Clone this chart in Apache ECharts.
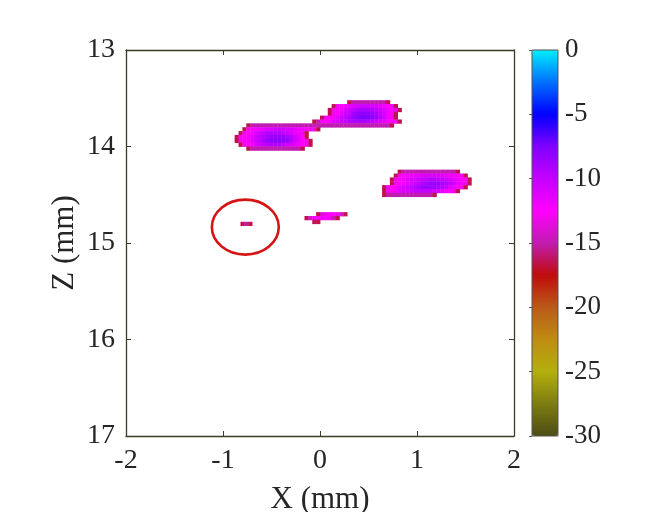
<!DOCTYPE html>
<html><head><meta charset="utf-8">
<script src="https://cdn.jsdelivr.net/npm/echarts@6/dist/echarts.min.js"></script>
<style>html,body{margin:0;padding:0;background:#fff}#c{width:671px;height:512px}</style>
</head><body><div id="c"></div>
<script>
// ---- axes / colour scale ----
const xRange = [-2, 2];
const zRange = [13, 17];
const cbarRange = [-30, 0];
const xTitle = 'X (mm)';
const zTitle = 'Z (mm)';
const colormap = ['#4d4d14','#7d7c12','#b3b00c','#bf8c12','#b95a18','#c00c0c','#c01cb0','#ff00ff','#c400ff','#8000ff','#0000ff','#0070ff','#00eeff'];

// ---- grid step of the image (mm) ----
const CELL = 0.04;

// ---- blob A (upper left) ----
const blobA_x0 = -0.86, blobA_z0 = 13.78;
const blobA_start = [3, 2, 1, 0, 0, 1, 3];
const blobA = [
  [-16.5,-15,-15,-15,-15,-15,-15,-15,-15,-15,-15,-15,-15,-15,-15,-15,-15,-15,-15],
  [-16.5,-13,-12.5,-12,-12,-11.5,-11,-11,-10.5,-10.5,-10.5,-11,-11,-11.5,-12,-12,-12.5,-13,-13,-16.5],
  [-16.5,-13,-12.5,-12,-11,-10.5,-10,-9.5,-9.5,-9.5,-9.5,-10,-10.5,-11,-11.5,-12,-13,-16.5],
  [-16.5,-13,-12.5,-12,-11.5,-10.5,-10,-9.5,-9,-8.5,-8.5,-8.5,-8.5,-9,-9.5,-10.5,-11.5,-12.5,-16.5],
  [-16.5,-13,-12.5,-12,-11.5,-10.5,-10,-9,-8.5,-8,-8,-8,-8,-8.5,-9.5,-10.5,-11.5,-12.5,-13,-16.5],
  [-16.5,-13,-12.5,-12,-11,-10.5,-10,-9.5,-9.5,-9.5,-9.5,-10,-10.5,-11,-11.5,-12,-12.5,-13,-16.5],
  [-16.5,-15,-15,-15,-15,-15,-15,-15,-15,-15,-15,-15,-15,-15,-16.5]
];

// ---- blob B (top) ----
const blobB_x0 = -0.06, blobB_z0 = 13.54;
const blobB_start = [9, 5, 4, 4, 2, 0, 2];
const blobB = [
  [-16.5,-15,-15,-15,-15,-15,-15,-15,-15,-15,-16.5],
  [-16.5,-13,-12.5,-12,-11.5,-11,-11,-10.5,-10.5,-10.5,-11,-11,-11.5,-12,-12.5,-13,-16.5],
  [-16.5,-13,-12.5,-12,-11,-10.5,-10,-9.5,-9,-9,-9,-9.5,-10,-10.5,-11,-12,-12.5,-13,-16.5],
  [-16.5,-13,-12.5,-11.5,-10.5,-10,-9,-8.5,-8,-8,-8,-8.5,-9,-10,-11,-12,-13,-16.5],
  [-16.5,-13,-12.5,-12,-11.5,-10.5,-10,-9,-8.5,-8,-7.5,-7.5,-7.5,-8,-8.5,-9.5,-10.5,-12,-13,-16.5],
  [-16.5,-15,-13,-12.5,-12,-11.5,-11,-10.5,-10,-9.5,-9,-9,-9,-9,-9.5,-10,-10.5,-11,-11.5,-12,-12.5,-13,-16.5],
  [-15,-15,-15,-15,-15,-15,-15,-15,-15,-15,-15,-15,-15,-15,-15,-15,-15,-15,-16.5]
];

// ---- blob C (right) ----
const blobC_x0 = 0.66, blobC_z0 = 14.26;
const blobC_start = [4, 3, 2, 2, 0, 0, 0];
const blobC = [
  [-16.5,-15,-15,-15,-15,-15,-15,-15,-15,-15,-15,-15,-15,-15,-15,-16.5],
  [-16.5,-13,-12.5,-12,-12,-11.5,-11.5,-11,-11,-11,-11,-11,-11.5,-11.5,-12,-12,-12.5,-13,-16.5],
  [-16.5,-13,-12.5,-12,-11.5,-11,-11,-10.5,-10,-10,-9.5,-9.5,-10,-10,-10.5,-11,-11.5,-12,-12.5,-13,-16.5],
  [-16.5,-13,-12.5,-12,-11.5,-11,-10.5,-10,-9.5,-9,-8.5,-8.5,-8.5,-9,-9.5,-10,-10.5,-11.5,-12,-13,-16.5],
  [-16.5,-13,-12.5,-12,-11.5,-11,-10.5,-10,-9.5,-9,-8.5,-8.5,-8.5,-8.5,-9,-9.5,-10,-11,-11.5,-12.5,-13,-16.5],
  [-16.5,-13,-12.5,-12,-11.5,-11,-11,-10.5,-10,-10,-10,-10,-10,-10.5,-11,-11.5,-12,-12.5,-13,-16.5],
  [-16.5,-15,-15,-15,-15,-15,-15,-15,-15,-15,-15,-15,-15,-16.5]
];

// ---- blob D (small, centre) ----
const blobD_x0 = -0.14, blobD_z0 = 14.70;
const blobD_start = [3, 0, 2];
const blobD = [
  [-16.5,-14,-13,-12.5,-12.5,-13,-14,-16.5],
  [-16.5,-14,-13,-12.5,-12,-12.5,-13,-15,-16.5],
  [-16.5,-16.5]
];

// ---- point inside the circle ----
const blobP_x0 = -0.80, blobP_z0 = 14.80;
const blobP_start = [0];
const blobP = [[-16.5,-15,-16.5]];

// ---- red marker ellipse: centre x, centre z, radius x, radius z (mm) ----
const marker = [-0.77, 14.835, 0.345, 0.285];

function cells(x0, z0, start, rows) {
  const out = [];
  rows.forEach((row, r) => row.forEach((v, k) => {
    out.push([+(x0 + (start[r] + k) * CELL).toFixed(4), +(z0 + r * CELL).toFixed(4), v]);
  }));
  return out;
}
const heatData = [].concat(
  cells(blobA_x0, blobA_z0, blobA_start, blobA),
  cells(blobB_x0, blobB_z0, blobB_start, blobB),
  cells(blobC_x0, blobC_z0, blobC_start, blobC),
  cells(blobD_x0, blobD_z0, blobD_start, blobD),
  cells(blobP_x0, blobP_z0, blobP_start, blobP)
);

const FONT = 'Liberation Serif';
const AX = '#3b3b25';
const TXT = '#262626';
const plot = {left: 126, top: 50, width: 388, height: 386};
const cbar = {left: 532, top: 50, width: 26, height: 386};

const chart = echarts.init(document.getElementById('c'));
const tickStyle = {show: true, inside: true, length: 5, lineStyle: {color: AX, width: 1}};
const lineStyle = {show: true, onZero: false, lineStyle: {color: AX, width: 1.3}};
chart.setOption({
  animation: false,
  backgroundColor: '#fff',
  textStyle: {fontFamily: FONT},
  grid: [
    Object.assign({}, plot, {containLabel: false, outerBoundsMode: 'none'}),
    Object.assign({}, cbar, {containLabel: false, outerBoundsMode: 'none', show: true, borderColor: '#555', borderWidth: 1, z: 6})
  ],
  xAxis: [
    {gridIndex: 0, type: 'value', min: xRange[0], max: xRange[1], interval: 1, position: 'bottom',
     axisLine: lineStyle, axisTick: tickStyle, splitLine: {show: false},
     axisLabel: {fontFamily: FONT, fontSize: 28, color: TXT, margin: 11},
     name: xTitle, nameLocation: 'middle', nameGap: 48, nameMoveOverlap: false,
     nameTextStyle: {fontFamily: FONT, fontSize: 31, color: TXT}},
    {gridIndex: 0, type: 'value', min: xRange[0], max: xRange[1], interval: 1, position: 'top',
     axisLine: lineStyle, axisTick: tickStyle, splitLine: {show: false}, axisLabel: {show: false}},
    {gridIndex: 1, type: 'value', min: 0, max: 1, show: false}
  ],
  yAxis: [
    {gridIndex: 0, type: 'value', min: zRange[0], max: zRange[1], interval: 1, inverse: true, position: 'left',
     axisLine: lineStyle, axisTick: tickStyle, splitLine: {show: false},
     axisLabel: {fontFamily: FONT, fontSize: 28, color: TXT, margin: 11},
     name: zTitle, nameLocation: 'middle', nameGap: 46, nameRotate: 90, nameMoveOverlap: false,
     nameTextStyle: {fontFamily: FONT, fontSize: 31, color: TXT}},
    {gridIndex: 0, type: 'value', min: zRange[0], max: zRange[1], interval: 1, inverse: true, position: 'right',
     axisLine: lineStyle, axisTick: tickStyle, splitLine: {show: false}, axisLabel: {show: false}},
    {gridIndex: 1, type: 'value', min: cbarRange[0], max: cbarRange[1], interval: 5, position: 'right',
     axisLine: {show: false}, axisTick: {show: true, inside: true, length: 3, lineStyle: {color: '#555'}},
     splitLine: {show: false},
     axisLabel: {fontFamily: FONT, fontSize: 27, color: TXT, margin: 7}}
  ],
  visualMap: {
    type: 'continuous', min: cbarRange[0], max: cbarRange[1], dimension: 2, seriesIndex: 0,
    calculable: false, hoverLink: false, text: null, showLabel: false,
    left: cbar.left, top: cbar.top, itemWidth: cbar.width, itemHeight: cbar.height,
    padding: 0, z: 1,
    inRange: {color: colormap}
  },
  series: [
    {
      type: 'custom', xAxisIndex: 0, yAxisIndex: 0, data: heatData,
      renderItem: function (params, api) {
        const x = api.value(0), z = api.value(1);
        const p0 = api.coord([x - CELL / 2, z - CELL / 2]);
        const p1 = api.coord([x + CELL / 2, z + CELL / 2]);
        return {
          type: 'rect',
          shape: {x: Math.min(p0[0], p1[0]), y: Math.min(p0[1], p1[1]),
                  width: Math.abs(p1[0] - p0[0]) + 0.4, height: Math.abs(p1[1] - p0[1]) + 0.4},
          style: {fill: api.visual('color')}
        };
      },
      encode: {x: 0, y: 1}
    },
    {
      type: 'custom', xAxisIndex: 0, yAxisIndex: 0, data: [marker], z: 5,
      renderItem: function (params, api) {
        const c = api.coord([api.value(0), api.value(1)]);
        const s = api.size([api.value(2), api.value(3)]);
        return {
          type: 'ellipse',
          shape: {cx: c[0], cy: c[1], rx: s[0], ry: s[1]},
          style: {fill: null, stroke: '#d41515', lineWidth: 2.6}
        };
      },
      encode: {x: 0, y: 1}
    }
  ]
});
</script></body></html>
